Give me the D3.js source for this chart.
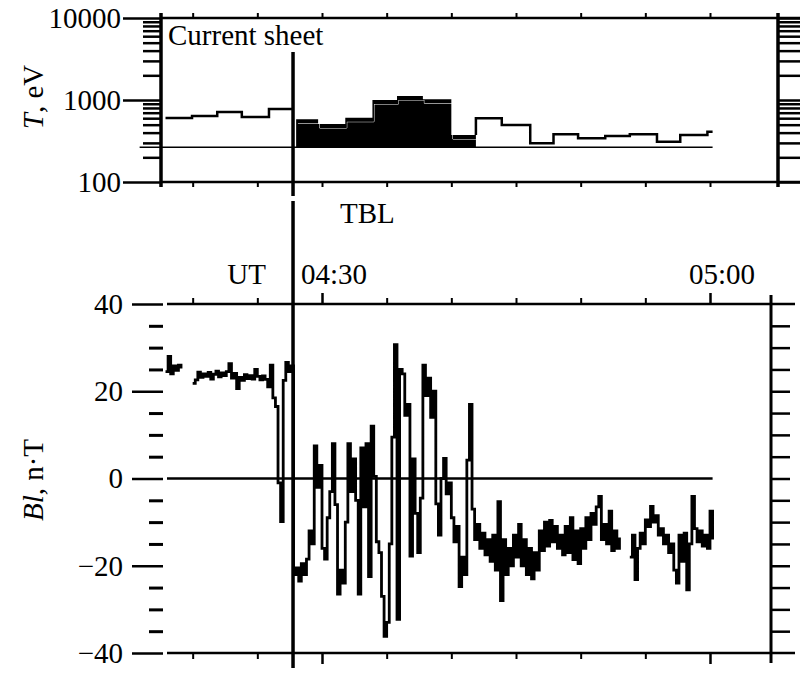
<!DOCTYPE html>
<html>
<head>
<meta charset="utf-8">
<script src="https://cdn.jsdelivr.net/npm/d3@7"></script>
<style>
  body { margin: 0; background: #fff; }
  svg text { font-family: "Liberation Serif", "Times New Roman", serif; font-size: 29px; fill: #000; }
</style>
</head>
<body>
<svg id="chart" width="802" height="675"></svg>
<script>
// times are minutes after 04:00 UT
const timeTicks = [20, 25, 30, 35, 40, 45, 50, 55, 60];
const timeMajor = [30, 60];
const timeLabels = ['04:30', '05:00'];
const boundaryTime = 27.76;

// T, eV step profile: edges have one entry more than values
const tEdgesSheet = [17.9, 19.95, 21.9, 23.8, 25.9, 27.7];
const tValuesSheet = [603, 640, 714, 620, 776];
const tEdgesTbl = [28.0, 29.7, 31.8, 33.9, 35.8, 37.8, 40.0, 41.9];
const tValuesTbl = [582, 510, 608, 1000, 1120, 1020, 374];
const tEdgesAfter = [41.9, 43.9, 46.1, 47.9, 49.8, 51.9, 53.8, 55.9, 57.7, 59.8, 60.2];
const tValuesAfter = [598, 496, 297, 381, 341, 364, 381, 310, 374, 410];
const tBase = 265;
const tBaseSpan = [15.9, 60.2];

const tMajorTicks = [100, 1000, 10000];
const tMinorTicks = [200, 300, 400, 500, 600, 700, 800, 900, 2000, 3000, 4000, 5000, 6000, 7000, 8000, 9000];

const blMajorTicks = [-40, -20, 0, 20, 40];
const blMinorTicks = [-35, -30, -25, -15, -10, -5, 5, 10, 15, 25, 30, 35];
const blRightTicks = [-35, -30, -25, -20, -15, -10, -5, 0, 5, 10, 15, 20, 25, 30, 35];

// Bl, nT sampled every 0.2 min, three pieces with data gaps between them
const blStep = 0.2;
const blSeg1Start = 17.9;
const blSeg1 = [24.5, 28.0, 24.0, 25.8, 24.8, 26.0, 25.2];
const blSeg2Start = 20.0;
const blSeg2 = [
  21.8, 22.6, 24.4, 23.2, 24.0, 23.4, 24.3, 22.8, 23.9, 24.6,
  23.3, 24.2, 23.6, 24.5, 26.3, 23.0, 24.1, 20.6, 23.2, 22.5,
  23.8, 22.9, 23.6, 22.8, 25.0, 23.4, 22.6, 23.5, 22.7, 21.0,
  26.0, 18.5, 16.5, -1.0, -9.9, 22.5, 26.6, 24.5, 25.8, -22.0,
  -20.5, -23.5, -19.5, -22.0, -18.5, -12.0, -15.0, 7.5, -2.0, 3.0,
  -16.0, -18.5, -9.0, -3.0, 8.0, -6.0, -26.5, -21.0, -24.0, -10.0,
  8.0, -3.0, 4.5, -5.0, -26.5, 7.0, -6.5, 8.0, -22.5, 12.0,
  0.5, -14.5, -17.0, -27.0, -36.2, -33.0, -15.0, 9.5, 30.7, -32.3,
  25.0, 24.0, 14.5, 17.0, -17.8, 4.5, -8.0, -17.0, -4.5, 26.0,
  19.0, 23.0, 14.0, 20.0, -5.8, -13.0, 0.0, 4.6, -3.5, -1.0,
  -9.0, -14.5, -11.0, -24.8, -18.0, -22.0, 4.2, 17.0, -7.0, -14.0,
  -10.5, -16.0, -12.5, -17.5, -14.0, -19.0, -13.0, -21.0, -5.3, -28.0,
  -14.0, -22.0, -16.0, -20.0, -13.0, -18.0, -10.5, -20.0, -14.0, -22.0,
  -16.0, -23.0, -17.0, -21.0, -12.0, -16.5, -10.0, -15.5, -9.6, -14.5,
  -11.0, -16.0, -13.0, -17.5, -11.0, -17.0, -9.0, -18.6, -12.0, -19.5,
  -11.5, -16.0, -9.0, -14.0, -8.0, -10.5, -6.5, -4.1, -14.0, -10.5,
  -15.0, -7.5, -16.5, -12.0, -16.0, -13.5
];
const blSeg3Start = 53.8;
const blSeg3 = [
  -18.0, -13.0, -23.2, -16.0, -12.5, -15.0, -9.5, -11.0, -6.4, -10.0,
  -8.5, -13.0, -11.5, -15.0, -13.0, -17.0, -15.0, -21.0, -24.0, -13.0,
  -19.0, -12.5, -25.5, -15.0, -4.1, -11.5, -14.5, -12.0, -15.5, -13.0,
  -16.0, -7.5, -14.0
];

const svg = d3.select('#chart');

const x = d3.scaleLinear().domain([30, 60]).range([322, 710]);
const yT = d3.scaleLog().domain([100, 10000]).range([182, 18]);
const yB = d3.scaleLinear().domain([-40, 40]).range([653, 304]);

const hline = (x1, x2, y, w) => svg.append('line')
  .attr('x1', x1).attr('x2', x2).attr('y1', y).attr('y2', y)
  .attr('stroke', '#000').attr('stroke-width', w);
const vline = (xx, y1, y2, w) => svg.append('line')
  .attr('x1', xx).attr('x2', xx).attr('y1', y1).attr('y2', y2)
  .attr('stroke', '#000').attr('stroke-width', w);

const styleAxis = (g, w) => {
  g.select('.domain').remove();
  g.selectAll('line').attr('stroke', '#000').attr('stroke-width', w);
};

// ---------- top panel: T, eV ----------
hline(161, 800, yT(10000), 2.5);
hline(161, 800, yT(100), 2.5);
vline(161, 13, 187, 3.5);
vline(778, 13, 187, 3.5);

svg.append('g').attr('transform', 'translate(161,0)')
  .call(d3.axisLeft(yT).tickValues(tMajorTicks).tickSize(38).tickPadding(2).tickFormat(d3.format('d')))
  .call(g => styleAxis(g, 2.5));
svg.append('g').attr('transform', 'translate(161,0)')
  .call(d3.axisLeft(yT).tickValues(tMinorTicks).tickSize(18).tickFormat(''))
  .call(g => styleAxis(g, 2.5));
svg.append('g').attr('transform', 'translate(778,0)')
  .call(d3.axisRight(yT).tickValues(tMajorTicks.concat(tMinorTicks)).tickSize(22).tickFormat(''))
  .call(g => styleAxis(g, 2.5));
svg.append('g').attr('transform', `translate(0,${yT(10000)})`)
  .call(d3.axisTop(x).tickValues(timeTicks).tickSize(5).tickFormat(''))
  .call(g => styleAxis(g, 2));
svg.append('g').attr('transform', `translate(0,${yT(100)})`)
  .call(d3.axisBottom(x).tickValues(timeTicks).tickSize(5).tickFormat(''))
  .call(g => styleAxis(g, 2));

const stepPoints = (edges, values) =>
  edges.map((e, i) => [e, values[Math.min(i, values.length - 1)]]);

const tLine = d3.line().x(d => x(d[0])).y(d => yT(d[1])).curve(d3.curveStepAfter);
const tArea = d3.area().x(d => x(d[0])).y0(yT(tBase)).y1(d => yT(d[1])).curve(d3.curveStepAfter);

// baseline level
hline(x(tBaseSpan[0]), x(tBaseSpan[1]), yT(tBase), 1.5);

svg.append('path')
  .attr('d', tLine(stepPoints(tEdgesSheet, tValuesSheet)))
  .attr('fill', 'none').attr('stroke', '#000').attr('stroke-width', 2.5);

const tblPts = stepPoints(tEdgesTbl, tValuesTbl);
svg.append('clipPath').attr('id', 'tblClip')
  .append('path').attr('d', tArea(tblPts));
svg.append('path').attr('d', tArea(tblPts)).attr('fill', '#000');
svg.append('path')
  .attr('d', tLine(tblPts))
  .attr('clip-path', 'url(#tblClip)')
  .attr('transform', 'translate(1.5,4)')
  .attr('fill', 'none').attr('stroke', '#fff').attr('stroke-width', 1);

const afterPts = [[tEdgesAfter[0], tValuesTbl[tValuesTbl.length - 1]]]
  .concat(stepPoints(tEdgesAfter, tValuesAfter));
svg.append('path')
  .attr('d', tLine(afterPts))
  .attr('fill', 'none').attr('stroke', '#000').attr('stroke-width', 2.5);

// ---------- bottom panel: Bl, nT ----------
hline(167, 795, yB(40), 2.5);
hline(167, 795, yB(-40), 2.5);
vline(771, 295, 663, 3);

svg.append('g').attr('transform', 'translate(163,0)')
  .call(d3.axisLeft(yB).tickValues(blMajorTicks).tickSize(31).tickPadding(9).tickFormat(d3.format('d')))
  .call(g => styleAxis(g, 2.5));
svg.append('g').attr('transform', 'translate(163,0)')
  .call(d3.axisLeft(yB).tickValues(blMinorTicks).tickSize(14).tickFormat(''))
  .call(g => styleAxis(g, 3));
svg.append('g').attr('transform', 'translate(771,0)')
  .call(d3.axisRight(yB).tickValues(blRightTicks).tickSize(19).tickFormat(''))
  .call(g => styleAxis(g, 2.5));

const minorTime = timeTicks.filter(t => !timeMajor.includes(t));
[[d3.axisTop, yB(40)], [d3.axisBottom, yB(-40)]].forEach(([ax, yy]) => {
  svg.append('g').attr('transform', `translate(0,${yy})`)
    .call(ax(x).tickValues(minorTime).tickSize(6).tickFormat(''))
    .call(g => styleAxis(g, 2));
  svg.append('g').attr('transform', `translate(0,${yy})`)
    .call(ax(x).tickValues(timeMajor).tickSize(11).tickFormat(''))
    .call(g => styleAxis(g, 2.5));
});

const blEnd = blSeg3Start + (blSeg3.length - 1) * blStep;
hline(167, x(blEnd), yB(0), 2.5);

const blLine = d3.line()
  .x(d => x(d[0])).y(d => yB(d[1]))
  .curve(d3.curveStepAfter);
[[blSeg1Start, blSeg1], [blSeg2Start, blSeg2], [blSeg3Start, blSeg3]].forEach(([t0, vals]) => {
  svg.append('path')
    .datum(vals.map((v, i) => [t0 + i * blStep, v]))
    .attr('d', blLine)
    .attr('fill', 'none').attr('stroke', '#000').attr('stroke-width', 2.8);
});

// sheet / TBL boundary
vline(x(boundaryTime), 52, 196, 3.5);
vline(x(boundaryTime), 201, 668, 3.5);

// ---------- labels ----------
svg.append('text').attr('x', 168).attr('y', 45).text('Current sheet');
svg.append('text').attr('x', 340).attr('y', 223).text('TBL');
svg.append('text').attr('x', 266).attr('y', 284).attr('text-anchor', 'end').text('UT');
timeMajor.forEach((t, i) => {
  svg.append('text').attr('x', x(t) + 12).attr('y', 284)
    .attr('text-anchor', 'middle').text(timeLabels[i]);
});

const yLabel = (cx, cy, italicPart, rest) => {
  const t = svg.append('text')
    .attr('transform', `translate(${cx},${cy}) rotate(-90)`)
    .attr('text-anchor', 'middle');
  t.append('tspan').attr('font-style', 'italic').text(italicPart);
  t.append('tspan').text(rest);
};
yLabel(43, 97, 'T', ', eV');
yLabel(43, 480, 'Bl', ', n·T');
</script>
</body>
</html>
